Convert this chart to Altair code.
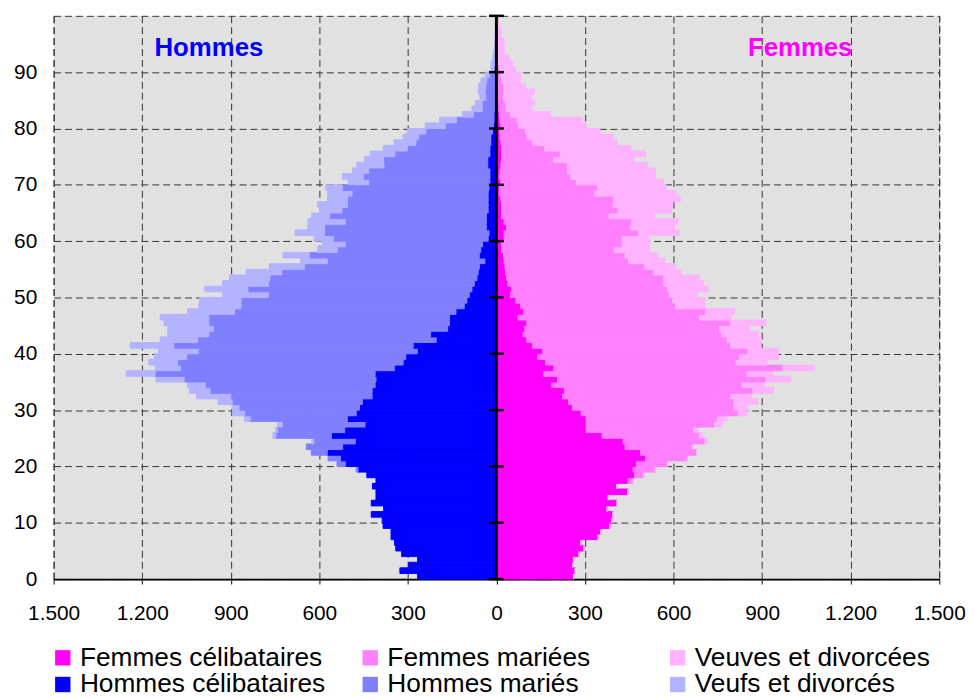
import altair as alt
import pandas as pd

ages = list(range(100))

hommes_celibataires = [267, 327, 297, 267, 321, 341, 345, 357, 357, 384,
                       387, 424, 382, 424, 408, 408, 420, 408, 439, 469,
                       512, 528, 573, 521, 478, 559, 514, 445, 505, 475,
                       464, 454, 421, 421, 411, 408, 411, 346, 316, 307,
                       268, 282, 204, 223, 165, 159, 159, 137, 109, 100,
                       92, 83, 75, 66, 62, 58, 39, 58, 53, 47,
                       28, 25, 34, 34, 34, 28, 28, 28, 28, 25,
                       22, 22, 22, 29, 29, 22, 22, 19, 19, 13,
                       10, 8, 8, 4, 2, 2, 2, 1, 1, 1,
                       0, 0, 0, 0, 0, 0, 0, 0, 0, 0]
hommes_maries = [0, 0, 0, 0, 0, 0, 0, 0, 0, 0,
                 0, 0, 0, 0, 0, 0, 0, 0, 0, 6,
                 28, 42, 54, 123, 140, 188, 227, 280, 329, 378,
                 408, 441, 479, 549, 575, 650, 745, 724, 764, 742,
                 742, 811, 808, 751, 794, 815, 815, 750, 756, 765,
                 680, 759, 697, 701, 665, 592, 534, 575, 486, 465,
                 525, 557, 548, 478, 531, 495, 477, 477, 461, 497,
                 410, 429, 411, 352, 353, 322, 280, 254, 244, 226,
                 163, 127, 70, 44, 46, 34, 36, 35, 32, 23,
                 11, 8, 5, 4, 3, 2, 1, 1, 0, 0]
veufs_divorces = [0, 0, 0, 0, 0, 0, 0, 0, 0, 0,
                  0, 0, 0, 0, 0, 0, 0, 0, 0, 0,
                  0, 0, 0, 0, 7, 10, 6, 16, 19, 42,
                  23, 48, 116, 69, 60, 95, 98, 86, 98, 109,
                  135, 147, 127, 139, 154, 152, 165, 159, 143, 140,
                  156, 146, 156, 137, 121, 119, 90, 90, 67, 78,
                  65, 100, 57, 126, 61, 76, 101, 67, 83, 56,
                  70, 71, 54, 92, 65, 84, 81, 74, 53, 63,
                  68, 57, 38, 35, 23, 20, 23, 24, 19, 14,
                  8, 10, 7, 6, 4, 3, 3, 2, 2, 1]

femmes_celibataires = [261, 267, 258, 261, 280, 297, 286, 345, 354, 384,
                       392, 395, 375, 409, 379, 446, 407, 446, 468, 463,
                       474, 505, 488, 436, 429, 358, 304, 304, 304, 287,
                       258, 244, 224, 231, 188, 207, 160, 194, 166, 140,
                       157, 123, 103, 90, 96, 103, 73, 93, 82, 66,
                       48, 52, 39, 35, 31, 29, 26, 24, 17, 17,
                       26, 26, 35, 26, 17, 17, 17, 15, 10, 10,
                       15, 10, 12, 15, 17, 17, 17, 15, 12, 11,
                       15, 12, 10, 8, 8, 6, 6, 5, 5, 4,
                       3, 2, 2, 1, 1, 1, 0, 0, 0, 0]
femmes_mariees = [0, 0, 0, 0, 0, 0, 0, 0, 0, 0,
                  0, 0, 0, 0, 0, 0, 0, 17, 31, 75,
                  106, 142, 190, 228, 277, 329, 364, 435, 444, 532,
                  547, 561, 569, 638, 644, 706, 689, 776, 646, 682,
                  695, 670, 679, 672, 659, 689, 615, 615, 525, 531,
                  538, 528, 528, 532, 502, 474, 422, 412, 382, 409,
                  400, 456, 420, 433, 365, 395, 378, 383, 322, 333,
                  255, 242, 229, 226, 177, 199, 147, 107, 92, 88,
                  61, 58, 38, 24, 24, 17, 20, 21, 13, 11,
                  8, 6, 4, 3, 2, 1, 1, 1, 1, 0]
veuves_divorcees = [0, 0, 0, 0, 0, 0, 0, 0, 0, 0,
                    0, 0, 0, 0, 0, 0, 0, 0, 0, 0,
                    0, 0, 0, 0, 9, 11, 15, 26, 34, 30,
                    44, 81, 71, 70, 75, 84, 90, 106, 104, 133,
                    103, 101, 115, 126, 103, 121, 107, 98, 100, 110,
                    95, 138, 134, 120, 92, 103, 123, 110, 120, 93,
                    90, 137, 148, 157, 153, 182, 202, 225, 276, 232,
                    297, 286, 297, 272, 272, 289, 291, 288, 292, 252,
                    227, 220, 135, 89, 98, 96, 103, 73, 64, 67,
                    54, 46, 37, 22, 23, 24, 14, 14, 6, 5]

series_names = ["Femmes célibataires", "Femmes mariées", "Veuves et divorcées",
                "Hommes célibataires", "Hommes mariés", "Veufs et divorcés"]
series_colors = ["#FF00FF", "#FF80FF", "#FFB3FF", "#0000FF", "#8080FF", "#B3B3FF"]

x_ticks = [-1500, -1200, -900, -600, -300, 0, 300, 600, 900, 1200, 1500]
y_ticks = [0, 10, 20, 30, 40, 50, 60, 70, 80, 90]
center_ticks = [0, 10, 20, 30, 40, 50, 60, 70, 80, 90, 100]

title_labels = ["Hommes", "Femmes"]
title_x = [-974, 1029]
title_y = [94.2, 94.2]
title_colors = ["#0000FF", "#FF00FF"]

# long table
specs = [
    ("Femmes célibataires", femmes_celibataires, 1, 0, "F"),
    ("Femmes mariées", femmes_mariees, 1, 1, "F"),
    ("Veuves et divorcées", veuves_divorcees, 1, 2, "F"),
    ("Hommes célibataires", hommes_celibataires, -1, 0, "H"),
    ("Hommes mariés", hommes_maries, -1, 1, "H"),
    ("Veufs et divorcés", veufs_divorces, -1, 2, "H"),
]
rows = []
for i, a in enumerate(ages):
    for name, vals, sign, ordr, sex in specs:
        rows.append({"age": a, "age1": a + 1, "series": name,
                     "value": sign * vals[i], "ord": ordr, "sex": sex})
df = pd.DataFrame(rows)

FONT = "Liberation Sans"
x_scale = alt.Scale(domain=[-1500, 1500], nice=False, zero=False)
y_scale = alt.Scale(domain=[0, 100], nice=False, zero=False)
color_scale = alt.Scale(domain=series_names, range=series_colors)

x_axis = alt.Axis(
    values=x_ticks, title=None, ticks=True, tickSize=5, tickWidth=1.2,
    tickColor="#333333", grid=True,
    gridDash=[7, 4], gridColor="#333333", gridWidth=1,
    domain=True, domainColor="black", domainWidth=1.6,
    labelExpr="replace(format(abs(datum.value), ','), ',', '.')",
    labelFont=FONT, labelFontSize=21, labelColor="black",
    labelPadding=19, labelFlush=False, labelOverlap=False)
y_axis = alt.Axis(
    values=y_ticks, title=None, ticks=False, grid=True,
    gridDash=[7, 4], gridColor="#333333", gridWidth=1,
    domain=False,
    labelFont=FONT, labelFontSize=21, labelColor="black",
    labelPadding=17, labelFlush=False, labelOverlap=False)

bars = alt.Chart(df).transform_stack(
    stack="value", groupby=["age", "sex"], as_=["x0", "x1"],
    sort=[alt.SortField("ord", order="ascending")]
).mark_bar(strokeWidth=1).encode(
    x=alt.X("x0:Q", scale=x_scale, axis=x_axis),
    x2="x1:Q",
    y=alt.Y("age:Q", scale=y_scale, axis=y_axis),
    y2="age1:Q",
    color=alt.Color("series:N", scale=color_scale, legend=alt.Legend(
        title=None, orient="none", legendX=-4, legendY=634, columns=3,
        direction="horizontal",
        gridAlign="all", columnPadding=32, rowPadding=0,
        symbolType="square", symbolSize=240, symbolStrokeWidth=0,
        labelFont=FONT, labelFontSize=26.5, labelColor="black",
        labelOffset=4, labelLimit=400, padding=0)),
    stroke=alt.Stroke("series:N", scale=color_scale, legend=None),
)

axis_df = pd.DataFrame({"x0": [0], "age": [0], "age1": [100]})
axis_line = alt.Chart(axis_df).mark_rule(color="black", strokeWidth=3).encode(
    x=alt.X("x0:Q", scale=x_scale, axis=x_axis),
    y=alt.Y("age:Q", scale=y_scale, axis=y_axis),
    y2="age1:Q",
)

ticks_df = pd.DataFrame({"x0": [0] * len(center_ticks), "age": center_ticks})
axis_ticks = alt.Chart(ticks_df).mark_tick(
    orient="horizontal", size=15, thickness=2.5, color="black", opacity=1
).encode(
    x=alt.X("x0:Q", scale=x_scale, axis=x_axis),
    y=alt.Y("age:Q", scale=y_scale, axis=y_axis),
)

titles = []
for lbl, tx, ty, tc in zip(title_labels, title_x, title_y, title_colors):
    tdf = pd.DataFrame({"x0": [tx], "age": [ty], "label": [lbl]})
    titles.append(alt.Chart(tdf).mark_text(
        font=FONT, fontSize=26, fontWeight="bold", color=tc,
        align="center", baseline="middle"
    ).encode(
        x=alt.X("x0:Q", scale=x_scale, axis=x_axis),
        y=alt.Y("age:Q", scale=y_scale, axis=y_axis),
        text="label:N",
    ))

chart = alt.layer(bars, axis_line, axis_ticks, *titles).properties(
    width=893, height=568,
    padding={"left": 5, "top": 3, "right": 0, "bottom": 0},
).configure_view(fill="#E1E1E1", stroke="#333333", strokeDash=[7, 4],
                 strokeWidth=1)

chart.save("out.html", embed_options={"renderer": "svg", "actions": False})
